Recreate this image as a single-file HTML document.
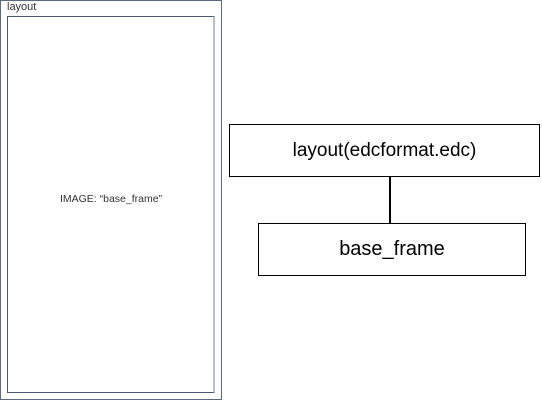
<!DOCTYPE html>
<html><head><style>
body{margin:0;width:542px;height:400px;background:#fff;position:relative;overflow:hidden;font-family:"Liberation Sans",sans-serif;}
div{position:absolute;box-sizing:border-box;}
.t{white-space:nowrap;text-align:center;}
</style></head><body>
<div style="left:0;top:0;width:222px;height:400px;border:1px solid #5a6a80;"></div>
<div class="t" style="left:7px;top:1px;font-size:11px;color:#333;line-height:13px;">layout</div>
<div style="left:7px;top:16px;width:208px;height:377px;border:1px solid #4a5870;border-right:2px solid #b8c0d0;"></div>
<div class="t" style="left:7px;top:192px;width:208px;font-size:10.5px;color:#333;line-height:14px;">IMAGE: “base_frame”</div>
<div class="t" style="left:229px;top:124px;width:311px;height:53px;border:1px solid #000;font-size:19px;line-height:51px;color:#000;">layout(edcformat.edc)</div>
<div style="left:389px;top:177px;width:2px;height:46px;background:#000;"></div>
<div class="t" style="left:258px;top:223px;width:268px;height:53px;border:1px solid #000;font-size:20px;line-height:51px;color:#000;">base_frame</div>
</body></html>
